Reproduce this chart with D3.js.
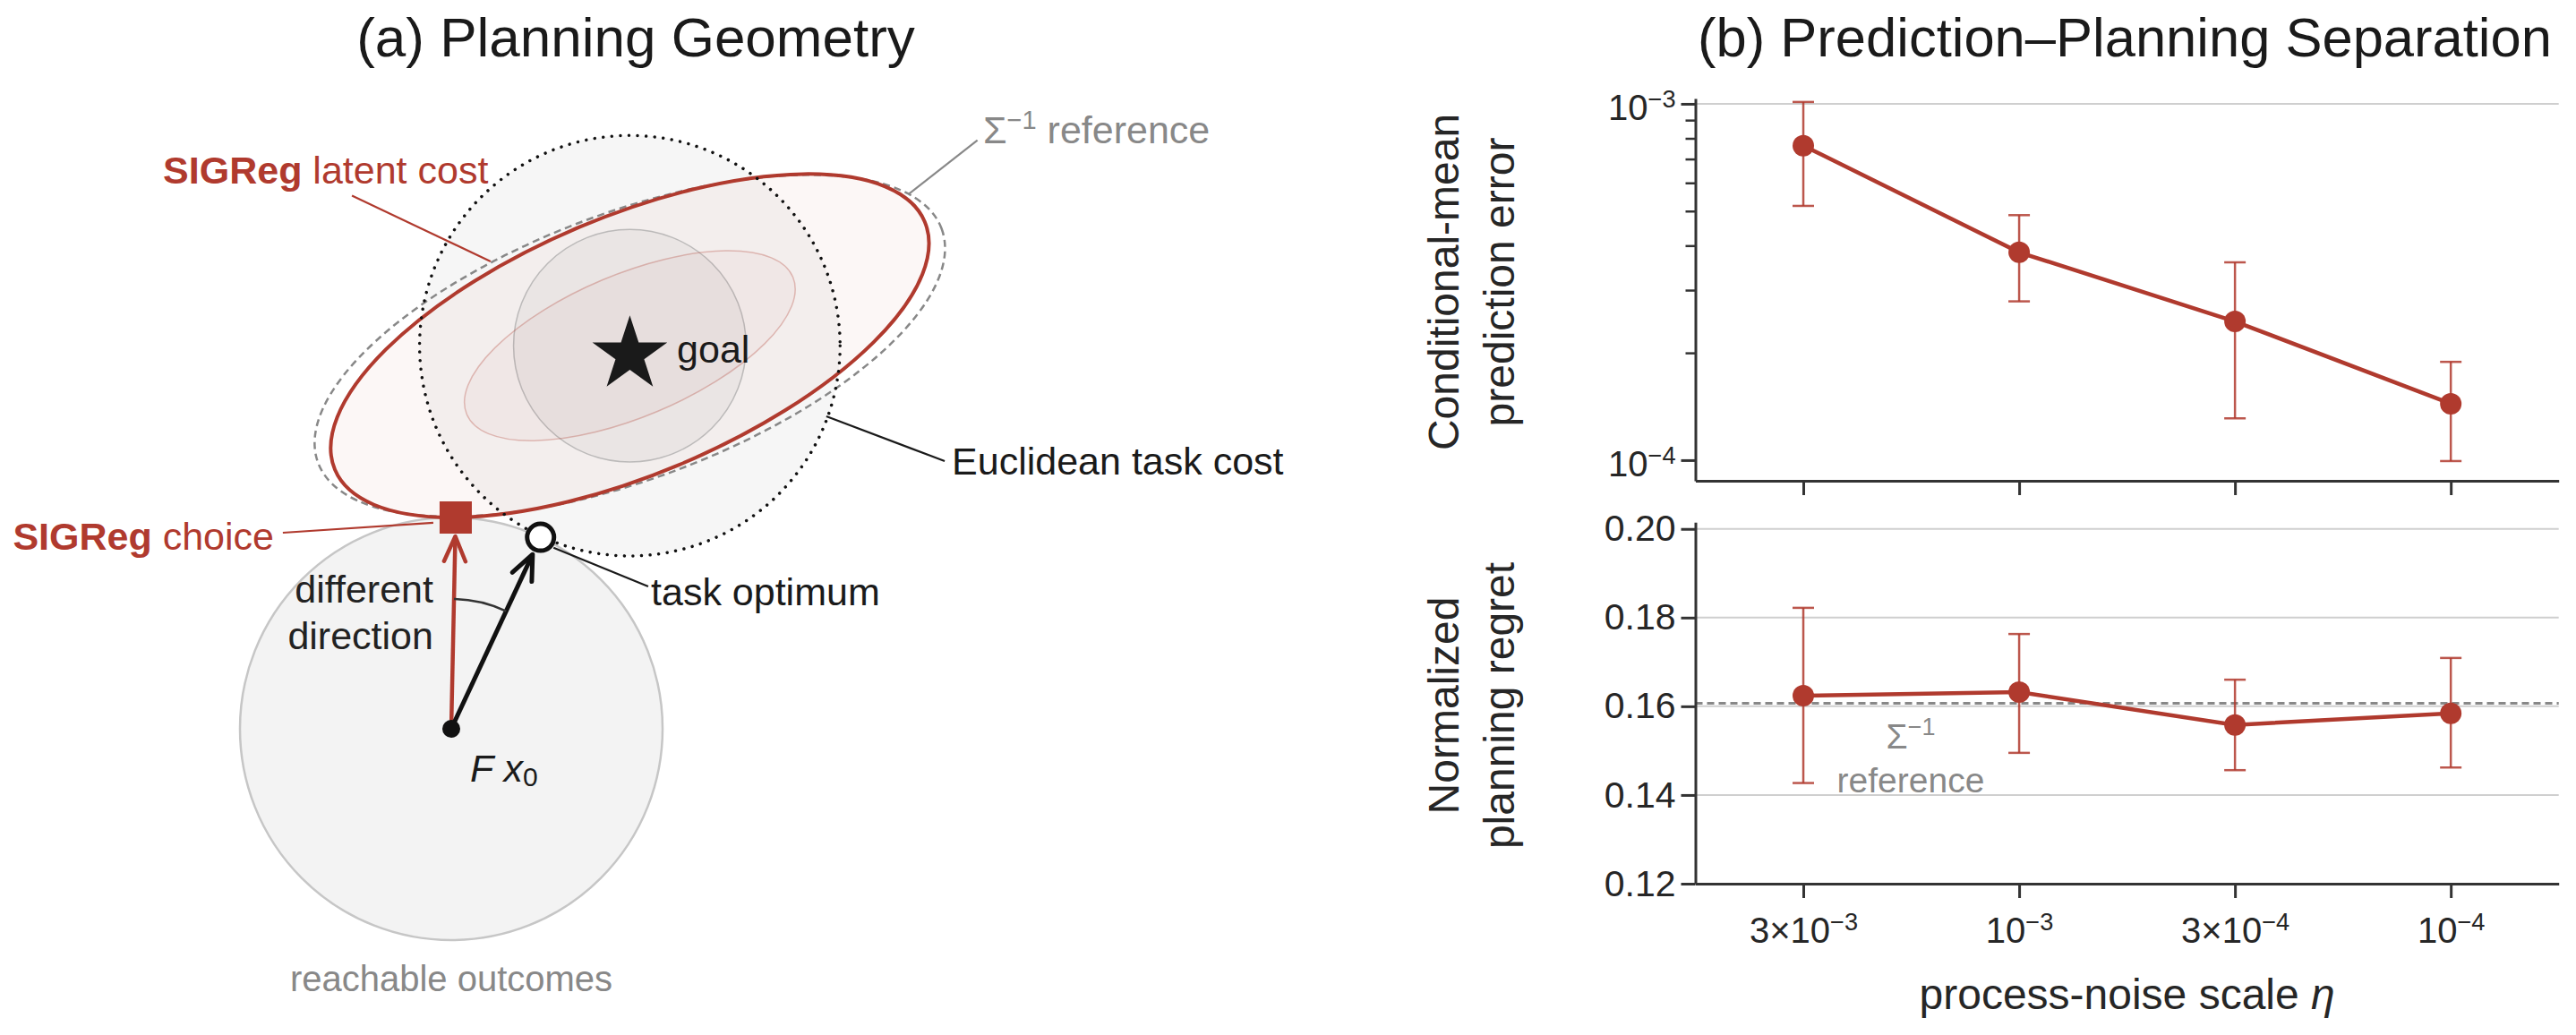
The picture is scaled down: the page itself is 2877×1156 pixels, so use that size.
<!DOCTYPE html>
<meta charset="utf-8">
<script src="https://cdn.jsdelivr.net/npm/d3@7"></script>
<style>
    body {
        margin: 0;
        background: #fff;
    }
    svg {
        display: block;
        font-family: "Liberation Sans", Arial, sans-serif;
    }
    .axis .domain {
        stroke: #333;
        stroke-width: 3;
    }
    .axis .tick line {
        stroke: #333;
        stroke-width: 3;
    }
    .minor .tick line {
        stroke-width: 2.5;
    }
</style>
<svg width="2877" height="1156"></svg>
<script>
    // ---- panel (b): prediction vs planning ----
    var etaTicks = ["3×10^−3", "10^−3", "3×10^−4", "10^−4"];
    var predMean = [7.63e-4, 3.83e-4, 2.45e-4, 1.44e-4];
    var predLo = [5.17e-4, 2.79e-4, 1.31e-4, 9.94e-5];
    var predHi = [1.012e-3, 4.87e-4, 3.59e-4, 1.887e-4];
    var predTicks = [1e-4, 1e-3];
    var predGrid = [1e-3];
    var regretMean = [0.1624, 0.1632, 0.1558, 0.1584];
    var regretLo = [0.1427, 0.1495, 0.1456, 0.1462];
    var regretHi = [0.1822, 0.1763, 0.1660, 0.1709];
    var regretTicks = [0.12, 0.14, 0.16, 0.18, 0.20];
    var regretRef = 0.1607;

    // ---- panel (a): geometry, in units of the reachable radius ----
    var reachCenter = [0, 0];
    var goal = [0.845, 1.813];
    var taskOptimum = [0.4226, 0.9063];
    var sigregChoice = [0.021, 1.0];
    var latentCost = [1.514, 0.610, 22.8];   // semi-axes, tilt in degrees
    var sigmaRef = [1.576, 0.629, 20.6];
    var taskRadius = 0.995;
    var innerLevel = 0.553;

    // annotation anchors (same units)
    var latentLeader = [[-0.470, 2.523], [0.186, 2.212]];
    var sigmaLeader = [[2.490, 2.785], [2.165, 2.531]];
    var euclidLeader = [[1.775, 1.479], [2.335, 1.267]];
    var choiceLeader = [[-0.797, 0.928], [-0.085, 0.975]];
    var optimumLeader = [[0.484, 0.857], [0.932, 0.674]];
    var latentText = [-1.364, 2.581];
    var sigmaText = [2.517, 2.771];
    var euclidText = [2.369, 1.203];
    var choiceText = [-0.839, 0.847];
    var optimumText = [0.945, 0.585];
    var angleText = [[-0.085, 0.597], [-0.085, 0.377]];
    var originText = [0.089, -0.249];
    var goalText = [1.068, 1.733];
    var reachText = [0, -1.242];

    var red = "#b03a2e",
        ink = "#1a1a1a",
        grey = "#888";

    var svg = d3.select("svg");

    // titles
    svg.append("text").attr("x", 710).attr("y", 63).attr("text-anchor", "middle")
        .attr("font-size", 62).attr("fill", ink).text("(a) Planning Geometry");
    svg.append("text").attr("x", 2373).attr("y", 63).attr("text-anchor", "middle")
        .attr("font-size", 61.5).attr("fill", ink).text("(b) Prediction–Planning Separation");

    // ================= panel (a) =================
    var xs = d3.scaleLinear().domain([0, 1]).range([504, 740]);
    var ys = d3.scaleLinear().domain([0, 1]).range([814, 578]);
    var unit = xs(1) - xs(0);
    var ga = svg.append("g");

    function px(p) { return [xs(p[0]), ys(p[1])]; }

    function ellipse(par, scale) {
        return ga.append("ellipse")
            .attr("rx", par[0] * unit * scale)
            .attr("ry", par[1] * unit * scale)
            .attr("transform", "translate(" + px(goal) + ") rotate(" + (-par[2]) + ")");
    }

    // reachable outcomes
    ga.append("circle").attr("cx", xs(reachCenter[0])).attr("cy", ys(reachCenter[1]))
        .attr("r", unit).attr("fill", "#f3f3f3").attr("stroke", "#c6c6c6").attr("stroke-width", 2.5);

    // euclidean task cost fill
    ga.append("circle").attr("cx", xs(goal[0])).attr("cy", ys(goal[1]))
        .attr("r", taskRadius * unit).attr("fill", "#000").attr("fill-opacity", 0.035);

    // latent cost fill
    ellipse(latentCost, 1).attr("fill", red).attr("fill-opacity", 0.045);

    // inner contours
    ga.append("circle").attr("cx", xs(goal[0])).attr("cy", ys(goal[1]))
        .attr("r", taskRadius * unit * innerLevel)
        .attr("fill", "#000").attr("fill-opacity", 0.035)
        .attr("stroke", "#999").attr("stroke-opacity", 0.6).attr("stroke-width", 1.5);
    ellipse(latentCost, innerLevel).attr("fill", red).attr("fill-opacity", 0.035)
        .attr("stroke", red).attr("stroke-opacity", 0.3).attr("stroke-width", 1.5);

    // sigma^-1 reference and latent outline
    ellipse(sigmaRef, 1).attr("fill", "none").attr("stroke", grey)
        .attr("stroke-width", 2.5).attr("stroke-dasharray", "8 5");
    ellipse(latentCost, 1).attr("fill", "none").attr("stroke", red).attr("stroke-width", 4);

    // euclidean outline (dotted)
    ga.append("circle").attr("cx", xs(goal[0])).attr("cy", ys(goal[1]))
        .attr("r", taskRadius * unit).attr("fill", "none").attr("stroke", "#111")
        .attr("stroke-width", 3.5).attr("stroke-linecap", "round").attr("stroke-dasharray", "0.01 9.6");

    // goal star (marker sits a little low in the original)
    ga.append("path")
        .attr("d", d3.symbol().type(d3.symbolStar).size(44 * 44 / 0.8908)())
        .attr("transform", "translate(" + xs(goal[0]) + "," + (ys(goal[1]) + 10) + ")")
        .attr("fill", ink);

    // arrows from F x0
    function arrow(to, color, width) {
        var a = px(reachCenter), b = px(to);
        var dx = b[0] - a[0], dy = b[1] - a[1], len = Math.hypot(dx, dy);
        var ux = dx / len, uy = dy / len;
        var tip = [b[0] - ux * 21, b[1] - uy * 21];
        ga.append("line").attr("x1", a[0]).attr("y1", a[1]).attr("x2", tip[0]).attr("y2", tip[1])
            .attr("stroke", color).attr("stroke-width", width);
        var w1 = [tip[0] - ux * 28 - uy * 12, tip[1] - uy * 28 + ux * 12],
            w2 = [tip[0] - ux * 28 + uy * 12, tip[1] - uy * 28 - ux * 12];
        ga.append("path").attr("d", d3.line()([w1, tip, w2]))
            .attr("fill", "none").attr("stroke", color).attr("stroke-width", width)
            .attr("stroke-linejoin", "round").attr("stroke-linecap", "round");
        return Math.atan2(dy, dx);
    }
    var aRed = arrow(sigregChoice, red, 4.5);
    var aBlack = arrow(taskOptimum, "#111", 5);

    // angle between the two directions
    var arc = d3.path();
    arc.arc(xs(reachCenter[0]), ys(reachCenter[1]), 145, aRed, aBlack);
    ga.append("path").attr("d", arc.toString()).attr("fill", "none")
        .attr("stroke", "#333").attr("stroke-width", 2.5);

    // markers
    ga.append("circle").attr("cx", xs(reachCenter[0])).attr("cy", ys(reachCenter[1]))
        .attr("r", 10).attr("fill", "#111");
    ga.append("rect").attr("x", xs(sigregChoice[0]) - 18).attr("y", ys(sigregChoice[1]) - 18)
        .attr("width", 36).attr("height", 36).attr("fill", red);
    ga.append("circle").attr("cx", xs(taskOptimum[0])).attr("cy", ys(taskOptimum[1]))
        .attr("r", 15).attr("fill", "#fff").attr("stroke", "#111").attr("stroke-width", 5);

    // leader lines
    [[latentLeader, red], [sigmaLeader, grey], [euclidLeader, ink],
        [choiceLeader, red], [optimumLeader, ink]].forEach(function(l) {
        ga.append("path").attr("d", d3.line()(l[0].map(px)))
            .attr("stroke", l[1]).attr("stroke-width", 2.2).attr("fill", "none");
    });

    function label(pos, anchor, color, size) {
        return ga.append("text").attr("x", xs(pos[0])).attr("y", ys(pos[1]))
            .attr("text-anchor", anchor).attr("fill", color).attr("font-size", size || 43);
    }
    var t = label(latentText, "start", red);
    t.append("tspan").attr("font-weight", "bold").text("SIGReg");
    t.append("tspan").text(" latent cost");
    t = label(choiceText, "end", red);
    t.append("tspan").attr("font-weight", "bold").text("SIGReg");
    t.append("tspan").text(" choice");
    t = label(sigmaText, "start", grey);
    t.append("tspan").text("Σ");
    t.append("tspan").attr("font-size", 29).attr("dy", -16).text("−1");
    t.append("tspan").attr("dy", 16).text(" reference");
    label(euclidText, "start", ink).text("Euclidean task cost");
    label(optimumText, "start", ink).text("task optimum");
    label(goalText, "start", ink).text("goal");
    label(angleText[0], "end", "#222").text("different");
    label(angleText[1], "end", "#222").text("direction");
    t = label(originText, "start", ink);
    t.append("tspan").attr("font-style", "italic").text("F x");
    t.append("tspan").attr("font-size", 30).attr("dy", 5).text("0");
    label(reachText, "middle", grey, 40).text("reachable outcomes");

    // ================= panel (b) =================
    var x = d3.scalePoint().domain(d3.range(etaTicks.length)).range([1893.5, 2857.7]).padding(0.5);
    var yTop = d3.scaleLog().domain([8.75e-5, 1.035e-3]).range([537, 110]);
    var yBot = d3.scaleLinear().domain([0.12, 0.2015]).range([987, 583.3]);

    function power(sel, s, size) {
        var p = s.split("^");
        sel.append("tspan").text(p[0]);
        sel.append("tspan").attr("font-size", size * 0.68).attr("dy", -size * 0.36).text(p[1]);
    }

    function panel(y, grid) {
        var g = svg.append("g");
        g.selectAll(".grid").data(grid).enter().append("line")
            .attr("x1", x.range()[0]).attr("x2", x.range()[1])
            .attr("y1", function(d) { return y(d); }).attr("y2", function(d) { return y(d); })
            .attr("stroke", "#cfcfcf").attr("stroke-width", 2);
        return g;
    }

    function series(g, y, mean, lo, hi) {
        var eb = g.append("g").attr("stroke", red).attr("stroke-opacity", 0.85).attr("stroke-width", 2.5);
        mean.forEach(function(m, i) {
            eb.append("line").attr("x1", x(i)).attr("x2", x(i)).attr("y1", y(lo[i])).attr("y2", y(hi[i]));
            eb.append("line").attr("x1", x(i) - 12).attr("x2", x(i) + 12).attr("y1", y(lo[i])).attr("y2", y(lo[i]));
            eb.append("line").attr("x1", x(i) - 12).attr("x2", x(i) + 12).attr("y1", y(hi[i])).attr("y2", y(hi[i]));
        });
        g.append("path")
            .attr("d", d3.line().x(function(d, i) { return x(i); }).y(function(d) { return y(d); })(mean))
            .attr("fill", "none").attr("stroke", red).attr("stroke-width", 4.5);
        g.selectAll(".dot").data(mean).enter().append("circle")
            .attr("cx", function(d, i) { return x(i); }).attr("cy", function(d) { return y(d); })
            .attr("r", 12).attr("fill", red);
    }

    // top: prediction error (log)
    var gt = panel(yTop, predGrid);
    series(gt, yTop, predMean, predLo, predHi);
    var minor = d3.range(2, 10).map(function(k) { return k * 1e-4; });
    gt.append("g").attr("class", "axis minor").attr("transform", "translate(" + x.range()[0] + ",0)")
        .call(d3.axisLeft(yTop).tickValues(minor).tickSize(11).tickFormat(""))
        .select(".domain").remove();
    var yAx = gt.append("g").attr("class", "axis").attr("transform", "translate(" + x.range()[0] + ",0)")
        .call(d3.axisLeft(yTop).tickValues(predTicks).tickSize(16).tickSizeOuter(0).tickFormat(""));
    yAx.selectAll(".tick").append("text").attr("x", -22).attr("y", 18)
        .attr("text-anchor", "end").attr("fill", "#262626").attr("font-size", 40)
        .each(function(d) { power(d3.select(this), "10^−" + Math.round(-Math.log10(d)), 40); });
    gt.append("g").attr("class", "axis").attr("transform", "translate(0,537)")
        .call(d3.axisBottom(x).tickSize(16).tickSizeOuter(0).tickFormat(""));

    // bottom: planning regret
    var gb = panel(yBot, regretTicks.slice(1));
    gb.append("line").attr("x1", x.range()[0]).attr("x2", x.range()[1])
        .attr("y1", yBot(regretRef)).attr("y2", yBot(regretRef))
        .attr("stroke", grey).attr("stroke-width", 3).attr("stroke-dasharray", "8 5");
    series(gb, yBot, regretMean, regretLo, regretHi);
    gb.append("g").attr("class", "axis").attr("transform", "translate(" + x.range()[0] + ",0)")
        .call(d3.axisLeft(yBot).tickValues(regretTicks).tickSize(16).tickSizeOuter(0)
            .tickPadding(6).tickFormat(d3.format(".2f")))
        .selectAll("text").attr("font-size", 41).attr("fill", "#262626")
        .attr("font-family", "Liberation Sans, Arial, sans-serif");
    var xAx = gb.append("g").attr("class", "axis").attr("transform", "translate(0,987)")
        .call(d3.axisBottom(x).tickSize(16).tickSizeOuter(0).tickFormat(""));
    xAx.selectAll(".tick").append("text").attr("y", 66).attr("text-anchor", "middle")
        .attr("fill", "#262626").attr("font-size", 40)
        .each(function(d) { power(d3.select(this), etaTicks[d], 40); });

    // reference label in the regret panel
    var rl = gb.append("text").attr("x", 2134).attr("y", yBot(regretRef) + 51)
        .attr("text-anchor", "middle").attr("fill", grey).attr("font-size", 39);
    rl.append("tspan").text("Σ");
    rl.append("tspan").attr("font-size", 27).attr("dy", -15).text("−1");
    gb.append("text").attr("x", 2134).attr("y", yBot(regretRef) + 100)
        .attr("text-anchor", "middle").attr("fill", grey).attr("font-size", 39).text("reference");

    // axis labels
    function yLabel(cy, lines) {
        var tl = svg.append("text").attr("transform", "translate(1629," + cy + ") rotate(-90)")
            .attr("text-anchor", "middle").attr("fill", "#262626").attr("font-size", 48);
        lines.forEach(function(s, i) {
            tl.append("tspan").attr("x", 0).attr("y", i * 62).text(s);
        });
    }
    yLabel(315, ["Conditional-mean", "prediction error"]);
    yLabel(788, ["Normalized", "planning regret"]);

    var xl = svg.append("text").attr("x", (x.range()[0] + x.range()[1]) / 2).attr("y", 1127)
        .attr("text-anchor", "middle").attr("fill", "#262626").attr("font-size", 48);
    xl.append("tspan").text("process-noise scale ");
    xl.append("tspan").attr("font-style", "italic").text("η");
</script>
